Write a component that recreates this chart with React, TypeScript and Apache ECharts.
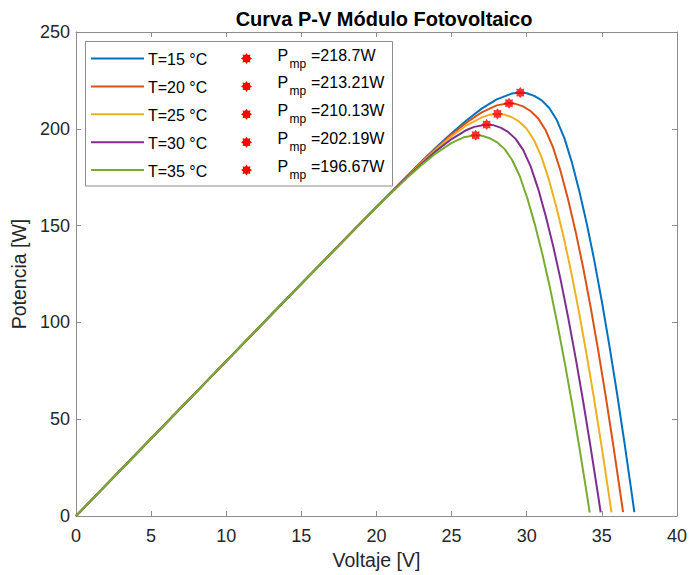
import React, { useEffect, useRef } from "react";
import * as echarts from "echarts";

// ---- Data ----
const temps = [15, 20, 25, 30, 35];
const tempLabels = ["T=15 °C", "T=20 °C", "T=25 °C", "T=30 °C", "T=35 °C"];
const pmpLabels = ["218.7", "213.21", "210.13", "202.19", "196.67"];

// Maximum power points (voltage, power) as plotted
const vmp = [29.57, 28.82, 28.05, 27.33, 26.6];
const pmp = [218.7, 213.21, 207.7, 202.19, 196.67];

// P-V curves [V, W]
const curveT15 = [
  [0, 0], [5, 40], [10, 80], [15, 120], [20, 159.8], [22, 175.4], [23, 183.1], [24, 190.6],
  [25, 197.7], [26, 204.4], [27, 210.4], [28, 215.2], [29, 218.2], [29.57, 218.7], [30, 218.35],
  [30.5, 217.0], [31, 214.7], [31.5, 210.75], [32, 204.5], [32.5, 195.3], [33, 182.8], [33.5, 167.8],
  [34, 150.8], [34.5, 131.8], [35, 110.8], [35.5, 88.0], [36, 63.8], [36.5, 38.0], [37, 11.0], [37.16, 2.0],
];
const curveT20 = [
  [0, 0], [5, 40], [10, 80], [15, 120], [20, 159.7], [22, 175.3], [23, 182.8], [24, 190.15],
  [25, 197.05], [26, 203.3], [27, 208.5], [28, 212.1], [28.82, 213.21], [29.25, 212.9], [29.75, 211.6],
  [30.25, 209.2], [30.75, 205.5], [31.25, 199.4], [31.75, 190.4], [32.25, 178.2], [32.75, 163.6],
  [33.25, 147.0], [33.75, 128.5], [34.25, 108.0], [34.75, 85.8], [35.25, 62.2], [35.75, 37.05],
  [36.25, 10.7], [36.41, 1.95],
];
const curveT25 = [
  [0, 0], [5, 40], [10, 80], [15, 120], [20, 159.7], [22, 175.1], [23, 182.5], [24, 189.6],
  [25, 196.15], [26, 201.8], [27, 205.9], [27.5, 207.2], [28.05, 207.7], [28.48, 207.4], [28.98, 206.1],
  [29.48, 203.8], [29.98, 200.15], [30.48, 194.2], [30.98, 185.5], [31.48, 173.6], [31.98, 159.4],
  [32.48, 143.2], [32.98, 125.2], [33.48, 105.2], [33.98, 83.6], [34.48, 60.6], [34.98, 36.1],
  [35.48, 10.4], [35.64, 1.9],
];
const curveT30 = [
  [0, 0], [5, 40], [10, 80], [15, 120], [20, 159.55], [22, 174.8], [23, 182.0], [24, 188.8],
  [25, 194.7], [26, 199.4], [26.5, 201.0], [27.33, 202.19], [27.76, 201.9], [28.26, 200.6],
  [28.76, 198.4], [29.26, 194.8], [29.76, 189.1], [30.26, 180.6], [30.76, 169.0], [31.26, 155.1],
  [31.76, 139.4], [32.26, 121.85], [32.76, 102.4], [33.26, 81.4], [33.76, 59.0], [34.26, 35.1],
  [34.76, 10.2], [34.92, 1.85],
];
const curveT35 = [
  [0, 0], [5, 40], [10, 80], [15, 120], [20, 159.4], [21, 167.0], [22, 174.4], [23, 181.3],
  [24, 187.6], [25, 192.7], [25.8, 195.6], [26.6, 196.67], [27.03, 196.4], [27.53, 195.15],
  [28.03, 193.0], [28.53, 189.5], [29.03, 183.9], [29.53, 175.6], [30.03, 164.4], [30.53, 150.9],
  [31.03, 135.6], [31.53, 118.5], [32.03, 99.6], [32.53, 79.1], [33.03, 57.4], [33.53, 34.2],
  [34.03, 9.9], [34.19, 1.8],
];
const curves = [curveT15, curveT20, curveT25, curveT30, curveT35];

const xTicks = { min: 0, max: 40, interval: 5 };
const yTicks = { min: 0, max: 250, interval: 50 };

// ---- Styling ----
const COLORS = ["#0072BD", "#D95319", "#EDB120", "#7E2F8E", "#77AC30"];
const FONT = "'Liberation Sans', Arial, Helvetica, sans-serif";
const AXIS_GRAY = "#8c8c8c";
const TEXT_DARK = "#262626";
const STAR_PATH =
  "path://M20 10 L16.47 12.68 L17.07 17.07 L12.68 16.47 L10 20 L7.32 16.47 L2.93 17.07 L3.53 12.68 L0 10 L3.53 7.32 L2.93 2.93 L7.32 3.53 L10 0 L12.68 3.53 L17.07 2.93 L16.47 7.32 Z";

function starPoints(cx: number, cy: number, r: number) {
  const pts: number[][] = [];
  for (let k = 0; k < 16; k++) {
    const a = (k * Math.PI) / 8;
    const rr = k % 2 === 0 ? r : r * 0.68;
    pts.push([cx + rr * Math.cos(a), cy + rr * Math.sin(a)]);
  }
  return pts;
}

function buildLegend() {
  const els: any[] = [];
  els.push({
    type: "rect",
    shape: { x: 85.5, y: 41.5, width: 307, height: 144.5 },
    style: { fill: "#ffffff", stroke: AXIS_GRAY, lineWidth: 1 },
    z: 100,
  });
  const rowY0 = 58.5;
  const rowGap = 27.9;
  tempLabels.forEach((lab, i) => {
    const ry = rowY0 + i * rowGap;
    els.push({
      type: "line",
      shape: { x1: 91, y1: ry, x2: 144, y2: ry },
      style: { stroke: COLORS[i], lineWidth: 2 },
      z: 101,
    });
    els.push({
      type: "text",
      x: 148,
      y: ry + 1,
      style: { text: lab, fontSize: 16, fontFamily: FONT, fill: "#000", verticalAlign: "middle", align: "left" },
      z: 101,
    });
    els.push({
      type: "polygon",
      shape: { points: starPoints(246.5, ry, 5.5) },
      style: { fill: "#ff0000" },
      z: 101,
    });
    els.push({
      type: "text",
      x: 277.5,
      y: ry - 3.5,
      style: { text: "P", fontSize: 16, fontFamily: FONT, fill: "#000", verticalAlign: "middle", align: "left" },
      z: 101,
    });
    els.push({
      type: "text",
      x: 289.5,
      y: ry + 5,
      style: { text: "mp", fontSize: 12, fontFamily: FONT, fill: "#000", verticalAlign: "middle", align: "left" },
      z: 101,
    });
    els.push({
      type: "text",
      x: 311,
      y: ry - 3.5,
      style: {
        text: "=" + pmpLabels[i] + "W",
        fontSize: 16,
        fontFamily: FONT,
        fill: "#000",
        verticalAlign: "middle",
        align: "left",
      },
      z: 101,
    });
  });
  return els;
}

export default function App() {
  const ref = useRef<HTMLDivElement>(null);

  useEffect(() => {
    if (!ref.current) return;
    const chart = echarts.init(ref.current, undefined, { renderer: "svg" });

    const axisLabelX = { fontSize: 18, color: TEXT_DARK, fontFamily: FONT, margin: 11 };
    const axisLabelY = { fontSize: 18, color: TEXT_DARK, fontFamily: FONT, margin: 6 };
    const axisLine = { show: true, onZero: false, lineStyle: { color: AXIS_GRAY, width: 1 } };
    const axisTick = { show: true, inside: true, length: 5, lineStyle: { color: AXIS_GRAY } };

    const lineSeries = curves.map((c, i) => ({
      type: "line",
      name: tempLabels[i],
      data: c,
      showSymbol: false,
      symbol: "none",
      smooth: false,
      lineStyle: { color: COLORS[i], width: 2 },
      itemStyle: { color: COLORS[i] },
      z: 2 + i,
    }));

    const scatterSeries = vmp.map((v, i) => ({
      type: "scatter",
      name: "Pmp=" + pmpLabels[i] + "W (T=" + temps[i] + " °C)",
      data: [[v, pmp[i]]],
      symbol: STAR_PATH,
      symbolSize: 11,
      itemStyle: { color: "#ff0000" },
      z: 20,
    }));

    chart.setOption({
      animation: false,
      backgroundColor: "#ffffff",
      title: {
        text: "Curva P-V Módulo Fotovoltaico",
        left: 379,
        top: 4,
        textAlign: "center",
        textStyle: { fontSize: 20, fontWeight: "bold", color: "#000", fontFamily: FONT },
      },
      grid: { left: 76, right: 8, top: 32, bottom: 55, containLabel: false },
      xAxis: [
        {
          type: "value",
          position: "bottom",
          ...xTicks,
          name: "Voltaje [V]",
          nameLocation: "middle",
          nameGap: 34,
          nameTextStyle: { fontSize: 19.5, color: TEXT_DARK, fontFamily: FONT },
          axisLine,
          axisTick,
          axisLabel: axisLabelX,
          splitLine: { show: false },
        },
        {
          type: "value",
          position: "top",
          ...xTicks,
          axisLine,
          axisTick,
          axisLabel: { show: false },
          splitLine: { show: false },
        },
      ],
      yAxis: [
        {
          type: "value",
          position: "left",
          ...yTicks,
          name: "Potencia [W]",
          nameLocation: "middle",
          nameGap: 44,
          nameTextStyle: { fontSize: 19.5, color: TEXT_DARK, fontFamily: FONT },
          axisLine,
          axisTick,
          axisLabel: axisLabelY,
          splitLine: { show: false },
        },
        {
          type: "value",
          position: "right",
          ...yTicks,
          axisLine,
          axisTick,
          axisLabel: { show: false },
          splitLine: { show: false },
        },
      ],
      series: [...lineSeries, ...scatterSeries],
      graphic: buildLegend(),
    });

    return () => chart.dispose();
  }, []);

  return (
    <div
      ref={ref}
      style={{ position: "fixed", left: 0, top: 0, width: 690, height: 575, background: "#fff" }}
    />
  );
}
